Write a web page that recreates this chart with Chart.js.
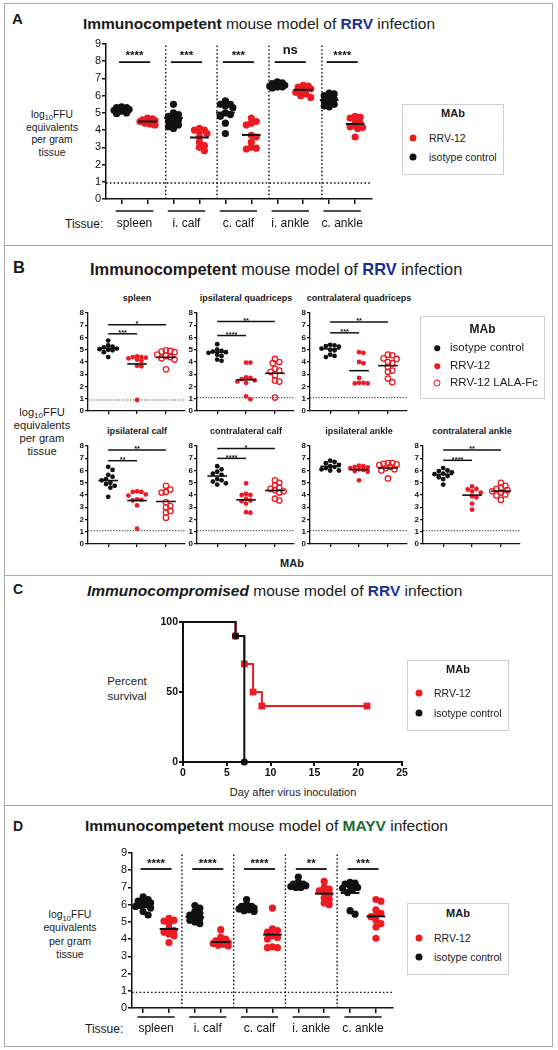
<!DOCTYPE html>
<html>
<head>
<meta charset="utf-8">
<title>RRV-12 protection in mouse models</title>
<script src="https://cdn.jsdelivr.net/npm/chart.js@4.4.1/dist/chart.umd.min.js"></script>
<style>
  body { margin: 0; background: #fff; }
  #page { position: relative; width: 558px; height: 1050px; overflow: hidden;
          font-family: "Liberation Sans", Arial, sans-serif; color: #1a1a1a; }
  .panel { position: absolute; left: 4px; width: 549px; border: 1.5px solid #a9a9a9; box-sizing: border-box; }
  .t { position: absolute; white-space: nowrap; line-height: 1; }
  .c { transform: translate(-50%, -50%); text-align: center; }
  .m { transform: translateY(-50%); }
  .lg { position: absolute; border: 1px solid #cfcfcf; box-sizing: border-box; }
  .dot { position: absolute; border-radius: 50%; transform: translate(-50%, -50%); box-sizing: border-box; }
  sub { font-size: 0.72em; line-height: 0; vertical-align: -0.3em; }
</style>
</head>
<body>
<div id="page"></div>
<script>
// ---------------- data ----------------
const tissues = ['spleen', 'i. calf', 'c. calf', 'i. ankle', 'c. ankle'];

// A - RRV, immunocompetent
const aIso = [
  [5.35, 5.3, 5.3, 5.25, 5.2, 5.2, 5.15, 5.1, 5.0, 4.95],
  [5.5, 5.0, 4.9, 4.8, 4.7, 4.6, 4.5, 4.4, 4.3, 4.2, 4.1],
  [5.7, 5.5, 5.5, 5.4, 5.3, 5.0, 4.9, 4.8, 4.4, 3.8],
  [6.8, 6.75, 6.7, 6.65, 6.6, 6.6, 6.55, 6.5, 6.5, 6.45],
  [6.15, 6.1, 6.0, 5.9, 5.8, 5.7, 5.6, 5.5, 5.4, 5.35]
];
const aRrv = [
  [4.7, 4.65, 4.6, 4.6, 4.55, 4.5, 4.5, 4.45, 4.4, 4.35, 4.3],
  [4.1, 4.0, 4.0, 3.9, 3.8, 3.6, 3.3, 3.1, 3.0, 2.8],
  [4.7, 4.5, 4.4, 4.3, 3.7, 3.6, 3.3, 3.0, 2.95, 2.9],
  [6.6, 6.55, 6.5, 6.45, 6.4, 6.3, 6.2, 6.1, 6.0, 5.9],
  [4.8, 4.75, 4.7, 4.6, 4.4, 4.3, 4.2, 4.15, 4.1, 3.6]
];
const aIsoMean = [5.2, 4.7, 5.02, 6.6, 5.75];
const aRrvMean = [4.5, 3.57, 3.72, 6.34, 4.36];
const aStars = ['****', '***', '***', 'ns', '****'];
const aBarY = 7.95;
const aLimit = 0.93;
const aSeps = [2.7, 4.68, 6.68, 8.72];

// B - RRV, immunocompetent, three antibodies
const bTissues = ['spleen', 'ipsilateral quadriceps', 'contralateral quadriceps',
  'ipsilateral calf', 'contralateral calf', 'ipsilateral ankle', 'contralateral ankle'];
const bIso = [
  [5.75, 5.35, 5.25, 5.2, 5.1, 5.05, 5.0, 4.95, 4.8, 4.4],
  [5.45, 5.0, 4.9, 4.85, 4.8, 4.75, 4.6, 4.5, 4.2, 4.1],
  [5.4, 5.35, 5.3, 5.25, 5.1, 5.0, 4.95, 4.6, 4.5, 4.4],
  [6.3, 6.05, 5.65, 5.5, 5.3, 5.2, 5.0, 4.9, 4.75, 4.6, 3.85],
  [6.35, 6.1, 5.9, 5.75, 5.65, 5.3, 5.2, 5.1, 4.95, 4.85],
  [6.8, 6.7, 6.6, 6.45, 6.35, 6.3, 6.2, 6.1, 6.0, 6.0],
  [6.2, 6.0, 5.95, 5.85, 5.75, 5.7, 5.55, 5.45, 5.3, 4.85]
];
const bRrv = [
  [4.45, 4.4, 4.4, 4.35, 4.3, 4.2, 4.1, 3.7, 3.65, 0.9],
  [3.95, 3.95, 2.75, 2.7, 2.6, 2.5, 2.4, 2.3, 1.2, 0.95],
  [4.8, 4.75, 4.0, 3.9, 2.7, 2.3, 2.3, 2.25, 2.25],
  [4.3, 4.25, 4.25, 4.05, 3.95, 3.65, 3.6, 3.55, 3.15, 1.25],
  [4.95, 4.1, 4.0, 4.0, 3.7, 3.55, 3.5, 3.3, 2.6, 2.55],
  [6.4, 6.35, 6.3, 6.25, 6.2, 6.1, 6.05, 5.95, 5.9, 5.2],
  [4.7, 4.5, 4.45, 4.3, 4.2, 3.9, 3.8, 3.3, 2.8]
];
const bLala = [
  [4.95, 4.9, 4.85, 4.8, 4.6, 4.5, 4.4, 4.3, 4.2, 3.4],
  [4.25, 4.0, 3.9, 3.45, 3.3, 3.2, 2.9, 2.5, 2.4, 1.1],
  [4.6, 4.55, 4.3, 4.25, 4.0, 3.9, 3.6, 3.3, 3.2, 2.65, 2.35],
  [4.75, 4.45, 4.25, 4.2, 3.4, 3.1, 3.0, 2.7, 2.55, 2.15],
  [5.2, 5.0, 4.8, 4.6, 4.5, 4.4, 4.3, 4.2, 3.7, 3.55],
  [6.6, 6.6, 6.55, 6.5, 6.45, 6.3, 6.2, 6.1, 6.0, 5.35],
  [5.0, 4.75, 4.6, 4.5, 4.4, 4.3, 4.2, 4.05, 3.95, 3.6]
];
const bIsoMean = [5.12, 4.8, 5.07, 5.18, 5.55, 6.34, 5.68];
const bRrvMean = [3.84, 2.55, 3.29, 3.55, 3.6, 6.07, 3.99];
const bLalaMean = [4.38, 3.08, 3.7, 3.47, 4.37, 6.2, 4.32];
const bLimit = [0.9, 1.1, 1.1, 1.1, 1.1, 1.1, 1.1];
const bStars12 = ['***', '****', '***', '**', '****', '', '****'];
const bBar12 = [6.3, 6.16, 6.38, 6.8, 6.99, null, 6.83];
const bStars13 = ['*', '**', '**', '**', '*', '', '**'];
const bBar13 = [7.05, 7.3, 7.26, 7.67, 7.8, null, 7.68];

// C - survival, immunocompromised
const cTicksX = [0, 5, 10, 15, 20, 25];
const cTicksY = [0, 50, 100];
const cIsoDays = [0, 6, 7];
const cIsoSurv = [100, 90, 0];
const cRrvDays = [0, 6, 7, 8, 9, 21];
const cRrvSurv = [100, 90, 70, 50, 40, 40];

// D - MAYV, immunocompetent
const dIso = [
  [6.45, 6.3, 6.2, 6.2, 6.1, 6.0, 5.95, 5.9, 5.8, 5.6, 5.4],
  [5.95, 5.8, 5.6, 5.5, 5.4, 5.3, 5.2, 5.1, 5.0, 4.9],
  [6.3, 6.0, 5.9, 5.9, 5.85, 5.8, 5.75, 5.7, 5.65, 5.6],
  [7.6, 7.3, 7.2, 7.2, 7.15, 7.1, 7.05, 7.0, 7.0],
  [7.3, 7.25, 7.2, 7.1, 7.0, 6.95, 6.9, 6.7, 5.65, 5.45]
];
const dRrv = [
  [5.2, 5.1, 5.05, 4.9, 4.6, 4.5, 4.4, 4.3, 4.2, 3.8],
  [4.55, 4.1, 4.0, 3.9, 3.85, 3.8, 3.75, 3.7, 3.65, 3.6],
  [5.8, 4.6, 4.5, 4.4, 4.2, 4.1, 4.0, 3.55, 3.5, 3.5],
  [7.35, 7.0, 6.9, 6.8, 6.7, 6.6, 6.4, 6.3, 6.1, 6.0],
  [6.3, 6.2, 5.7, 5.5, 5.4, 5.3, 5.1, 4.9, 4.7, 4.05]
];
const dIsoMean = [6.0, 5.28, 5.8, 7.16, 6.68];
const dRrvMean = [4.59, 3.83, 4.26, 6.64, 5.32];
const dStars = ['****', '****', '****', '**', '***'];
const dBarY = 8.07;
const dLimit = 0.91;
const dSeps = [2.5, 4.5, 6.5, 8.5];

// ---------------- helpers ----------------
const FONT = '"Liberation Sans", Arial, sans-serif';
const RED = '#ed1c24';
const INK = '#111111';
const RRV_BLUE = '#1b2f8f';
const MAYV_GREEN = '#1a6b35';
const page = document.getElementById('page');

function el(cls, css, html) {
  const d = document.createElement('div');
  d.className = cls;
  d.style.cssText = css;
  if (html !== undefined) d.innerHTML = html;
  page.appendChild(d);
  return d;
}
function text(x, y, html, css, mode) {
  return el('t ' + (mode || 'c'), `left:${x}px;top:${y}px;${css || ''}`, html);
}
function legend(box, size, titleSize, titleY, items) {
  el('lg', `left:${box[0]}px;top:${box[1]}px;width:${box[2]}px;height:${box[3]}px`);
  text(box[0] + box[2] / 2, titleY, 'MAb', `font-size:${titleSize}px;font-weight:bold`);
  items.forEach(it => {
    el('dot', `left:${it.mx}px;top:${it.y}px;width:${it.d}px;height:${it.d}px;` +
      (it.hollow ? `border:1.4px solid ${it.color};background:#fff` : `background:${it.color}`));
    text(it.tx, it.y, it.label, `font-size:${size}px`, 'm');
  });
}
function yLabel(x, y, size, lh) {
  text(x, y, 'log<sub>10</sub>FFU<br>equivalents<br>per gram<br>tissue', `font-size:${size}px;line-height:${lh}px`);
}

// spread the points of one group sideways (beeswarm); when the group is too
// crowded to fit inside maxOff, points are allowed to overlap like in GraphPad
function swarm(vals, cx, pxX, pxY, minDist, maxOff) {
  const placed = [];
  const step = minDist * 0.5;
  vals.slice().sort((a, b) => b - a).forEach(v => {
    let best = 0, bestGap = -1;
    for (let k = 0; k < 80; k++) {
      const cand = (k % 2 ? 1 : -1) * Math.ceil(k / 2) * step;
      if (Math.abs(cand) > maxOff) break;
      let gap = Infinity;
      placed.forEach(p => {
        const dx = cand - p.off, dy = (v - p.v) * pxY;
        gap = Math.min(gap, Math.sqrt(dx * dx + dy * dy));
      });
      if (gap >= minDist) { best = cand; bestGap = gap; break; }
      if (gap > bestGap + 0.3) { best = cand; bestGap = gap; }
    }
    placed.push({ v: v, off: best });
  });
  return placed.map(p => ({ x: cx + p.off / pxX, y: p.v }));
}

function canvasFor(b) {
  const cv = document.createElement('canvas');
  const W = b.w + b.yW + b.pr, H = b.h + b.pt + b.xH;
  cv.width = W; cv.height = H;
  cv.style.cssText = `position:absolute;left:${b.l - b.yW}px;top:${b.t - b.pt}px;width:${W}px;height:${H}px`;
  page.appendChild(cv);
  return cv;
}

function axes(b, xs, ys, st) {
  const grid = len => ({ display: true, drawOnChartArea: false, drawTicks: true, tickLength: len, color: INK, lineWidth: st.lw });
  return {
    x: {
      type: 'linear', min: xs.min, max: xs.max,
      afterBuildTicks: s => { s.ticks = xs.ticks.map(v => ({ value: v })); },
      ticks: { display: !!xs.labels, color: INK, font: st.font, padding: st.xPad || 2, maxRotation: 0, autoSkip: false },
      grid: grid(st.xTick), border: { display: true, color: INK, width: st.lw },
      afterFit: s => { s.height = b.xH; }
    },
    y: {
      type: 'linear', min: 0, max: ys.max,
      afterBuildTicks: s => { s.ticks = ys.ticks.map(v => ({ value: v })); },
      ticks: { color: INK, font: st.font, padding: st.yPad, autoSkip: false },
      grid: grid(st.yTick), border: { display: true, color: INK, width: st.lw },
      afterFit: s => { s.width = b.yW; }
    }
  };
}

function dotChart(b, o) {
  const pxX = b.w / (o.xMax - o.xMin), pxY = b.h / o.yMax;
  const ds = [];
  const seg = (p1, p2, color, width, dash) => ds.push({
    showLine: true, data: [p1, p2], borderColor: color, borderWidth: width,
    borderDash: dash || [], pointRadius: 0, clip: false
  });
  o.groups.forEach(g => seg({ x: g.cx - o.meanHalf, y: g.mean }, { x: g.cx + o.meanHalf, y: g.mean }, INK, o.meanLw));
  o.bars.forEach(br => seg({ x: br.x1, y: br.y }, { x: br.x2, y: br.y }, INK, o.barLw));
  o.groups.forEach(g => ds.push({
    data: swarm(g.vals, g.cx, pxX, pxY, o.minDist, o.maxOff),
    pointRadius: g.hollow ? o.r + 0.3 : o.r,
    pointBackgroundColor: g.hollow ? 'rgba(255,255,255,0)' : g.color,
    pointBorderColor: g.color,
    pointBorderWidth: g.hollow ? 1.3 : 0,
    clip: false
  }));
  seg({ x: o.xMin, y: o.limit }, { x: o.xMax, y: o.limit }, o.limitColor, o.limitLw, o.dash);
  (o.seps || []).forEach(s => seg({ x: s, y: 0 }, { x: s, y: o.yMax }, INK, o.limitLw, o.dash));

  const annot = {
    id: 'annot',
    afterDatasetsDraw(chart) {
      const ctx = chart.ctx, sx = chart.scales.x, sy = chart.scales.y;
      ctx.save();
      ctx.fillStyle = INK;
      ctx.textAlign = 'center';
      ctx.textBaseline = 'alphabetic';
      o.bars.forEach(br => {
        const ns = br.text === 'ns';
        ctx.font = `bold ${ns ? o.nsSize : o.starSize}px ${FONT}`;
        ctx.fillText(br.text, sx.getPixelForValue((br.x1 + br.x2) / 2),
          sy.getPixelForValue(br.y) - (ns ? o.nsLift : o.starLift));
      });
      if (o.cats) {
        const base = sy.getPixelForValue(0);
        ctx.strokeStyle = INK;
        ctx.lineWidth = o.catLw;
        ctx.textBaseline = 'middle';
        ctx.font = `${o.catSize}px ${FONT}`;
        o.cats.forEach(c => {
          ctx.beginPath();
          ctx.moveTo(sx.getPixelForValue(c.x - o.catHalf), base + o.catLineDy);
          ctx.lineTo(sx.getPixelForValue(c.x + o.catHalf), base + o.catLineDy);
          ctx.stroke();
          ctx.fillText(c.text, sx.getPixelForValue(c.x), base + o.catTextDy);
        });
      }
      ctx.restore();
    }
  };

  return new Chart(canvasFor(b), {
    type: 'scatter',
    data: { datasets: ds },
    options: {
      responsive: false, animation: false, events: [],
      layout: { padding: { top: b.pt, right: b.pr, left: 0, bottom: 0 } },
      plugins: { legend: { display: false }, tooltip: { enabled: false } },
      scales: axes(b, { min: o.xMin, max: o.xMax, ticks: o.xTicks }, { max: o.yMax, ticks: o.yTicks }, o.axis)
    },
    plugins: [annot]
  });
}

// two-group panel (A and D)
function pairPanel(b, iso, rrv, isoMean, rrvMean, stars, barY, limit, seps, xMin, xMax, catLineDy, catTextDy, starLift) {
  const groups = [], bars = [], cats = [], xTicks = [];
  tissues.forEach((t, i) => {
    groups.push({ cx: 2 * i + 1, vals: iso[i], color: INK, mean: isoMean[i] });
    groups.push({ cx: 2 * i + 2, vals: rrv[i], color: RED, mean: rrvMean[i] });
    bars.push({ x1: 2 * i + 0.9, x2: 2 * i + 2.1, y: barY, text: stars[i] });
    cats.push({ x: 2 * i + 1.5, text: t });
    xTicks.push(2 * i + 1, 2 * i + 2);
  });
  dotChart(b, {
    xMin: xMin, xMax: xMax, yMax: 9, xTicks: xTicks, yTicks: [0, 1, 2, 3, 4, 5, 6, 7, 8, 9],
    groups: groups, bars: bars, cats: cats, seps: seps, limit: limit,
    r: 3.6, minDist: 5, maxOff: 9, meanHalf: 0.36, meanLw: 2, barLw: 1.8,
    limitColor: INK, limitLw: 1.4, dash: [1.6, 2.2],
    starSize: 11.5, starLift: starLift, nsSize: 13, nsLift: 8,
    catHalf: 0.72, catLw: 1.6, catSize: 12, catLineDy: catLineDy, catTextDy: catTextDy,
    axis: { lw: 1.5, font: { family: FONT, size: 11 }, xTick: 5, yTick: 4, yPad: 1 }
  });
}

// ---------------- panels ----------------
[[3, 243], [245, 331], [575, 231], [805, 242]].forEach(p =>
  el('panel', `top:${p[0]}px;height:${p[1]}px`));

// ---- A ----
text(12, 18, 'A', 'font-size:15px;font-weight:bold', 'm');
text(83, 24, `<b>Immunocompetent</b> mouse model of <b style="color:${RRV_BLUE}">RRV</b> infection`, 'font-size:15.5px', 'm');
yLabel(52, 134, 10.3, 12.7);
text(65, 224, 'Tissue:', 'font-size:12px', 'm');
pairPanel({ l: 106, t: 44, w: 266, h: 155, yW: 22, xH: 36, pt: 10, pr: 8 },
  aIso, aRrv, aIsoMean, aRrvMean, aStars, aBarY, aLimit, aSeps, 0.4, 10.65, 12, 25, 3);
legend([402, 104, 102, 71], 10.5, 11, 113, [
  { label: 'RRV-12', color: RED, y: 138, mx: 413, tx: 429, d: 7 },
  { label: 'isotype control', color: INK, y: 157, mx: 413, tx: 429, d: 7 }
]);

// ---- B ----
text(13, 267, 'B', 'font-size:16.5px;font-weight:bold', 'm');
text(90, 269, `<b>Immunocompetent</b> mouse model of <b style="color:${RRV_BLUE}">RRV</b> infection`, 'font-size:16.4px', 'm');
yLabel(42, 432, 11.2, 13);
text(292, 563, 'MAb', 'font-size:11px;font-weight:bold');
const bSlots = [[88, 313], [197, 313], [310, 313], [88, 446], [197, 446], [310, 446], [423, 446]];
bTissues.forEach((name, i) => {
  const b = { l: bSlots[i][0], t: bSlots[i][1], w: 98, h: 98, yW: 14, xH: 6, pt: 6, pr: 4 };
  text(b.l + b.w / 2, b.t - 15, name, 'font-size:9px;font-weight:bold');
  const bars = [];
  if (bBar12[i] !== null) {
    bars.push({ x1: 1, x2: 2, y: bBar12[i], text: bStars12[i] });
    bars.push({ x1: 1, x2: 3, y: bBar13[i], text: bStars13[i] });
  }
  dotChart(b, {
    xMin: 0.3, xMax: 3.65, yMax: 8, xTicks: [1, 2, 3], yTicks: [0, 1, 2, 3, 4, 5, 6, 7, 8],
    groups: [
      { cx: 1, vals: bIso[i], color: INK, mean: bIsoMean[i] },
      { cx: 2, vals: bRrv[i], color: RED, mean: bRrvMean[i] },
      { cx: 3, vals: bLala[i], color: RED, mean: bLalaMean[i], hollow: true }
    ],
    bars: bars, limit: bLimit[i],
    r: 2.4, minDist: 4.4, maxOff: 10, meanHalf: 0.34, meanLw: 1.6, barLw: 1.5,
    limitColor: '#555', limitLw: 1.2, dash: [1.3, 1.5],
    starSize: 7.5, starLift: -1.4, nsSize: 9, nsLift: 2,
    axis: { lw: 1.3, font: { family: FONT, size: 8, weight: 'bold' }, xTick: 3, yTick: 3, yPad: 1 }
  });
});
legend([420, 316, 125, 83], 11.5, 12, 329, [
  { label: 'isotype control', color: INK, y: 348, mx: 437, tx: 450, d: 5.5 },
  { label: 'RRV-12', color: RED, y: 366, mx: 437, tx: 450, d: 5.5 },
  { label: 'RRV-12 LALA-Fc', color: RED, y: 383, mx: 437, tx: 450, d: 7, hollow: true }
]);

// ---- C ----
text(13, 589, 'C', 'font-size:14px;font-weight:bold', 'm');
text(87, 591, `<b><i>Immunocompromised</i></b> mouse model of <b style="color:${RRV_BLUE}">RRV</b> infection`, 'font-size:15.5px', 'm');
text(127, 689, 'Percent<br>survival', 'font-size:11.5px;line-height:15px');
text(293, 792, 'Day after virus inoculation', 'font-size:11px');
(function () {
  const b = { l: 183, t: 622, w: 219, h: 140, yW: 26, xH: 20, pt: 8, pr: 10 };
  const km = (days, surv) => days.map((d, i) => ({ x: d, y: surv[i] }));
  new Chart(canvasFor(b), {
    type: 'line',
    data: {
      datasets: [
        { data: km(cIsoDays, cIsoSurv), stepped: true, borderColor: INK, borderWidth: 2,
          pointRadius: cIsoDays.map((d, i) => (i === 0 ? 0 : 3.6)), pointBackgroundColor: INK,
          pointBorderWidth: 0, clip: false },
        { data: km(cRrvDays, cRrvSurv), stepped: true, borderColor: RED, borderWidth: 2,
          pointStyle: 'rect', pointRadius: cRrvDays.map((d, i) => (i === 0 ? 0 : 4.8)),
          pointBackgroundColor: RED, pointBorderWidth: 0, clip: false }
      ]
    },
    options: {
      responsive: false, animation: false, events: [],
      layout: { padding: { top: b.pt, right: b.pr, left: 0, bottom: 0 } },
      plugins: { legend: { display: false }, tooltip: { enabled: false } },
      scales: axes(b, { min: 0, max: 25, ticks: cTicksX, labels: true }, { max: 100, ticks: cTicksY },
        { lw: 2, font: { family: FONT, size: 10.5, weight: 'bold' }, xTick: 4, yTick: 4, yPad: 1, xPad: 1 })
    }
  });
})();
legend([407, 660, 102, 71], 10.5, 11, 669, [
  { label: 'RRV-12', color: RED, y: 693, mx: 419, tx: 434, d: 7 },
  { label: 'isotype control', color: INK, y: 713, mx: 419, tx: 434, d: 7 }
]);

// ---- D ----
text(13, 826, 'D', 'font-size:14px;font-weight:bold', 'm');
text(85, 826, `<b>Immunocompetent</b> mouse model of <b style="color:${MAYV_GREEN}">MAYV</b> infection`, 'font-size:15.5px', 'm');
yLabel(70, 935, 10.5, 13.3);
text(85, 1029, 'Tissue:', 'font-size:12px', 'm');
pairPanel({ l: 132, t: 853, w: 261, h: 155, yW: 22, xH: 32, pt: 10, pr: 8 },
  dIso, dRrv, dIsoMean, dRrvMean, dStars, dBarY, dLimit, dSeps, 0.57, 10.66, 9, 21, 2);
legend([407, 903, 102, 72], 10.5, 11, 913, [
  { label: 'RRV-12', color: RED, y: 938, mx: 419, tx: 434, d: 7 },
  { label: 'isotype control', color: INK, y: 957, mx: 419, tx: 434, d: 7 }
]);
</script>
</body>
</html>
